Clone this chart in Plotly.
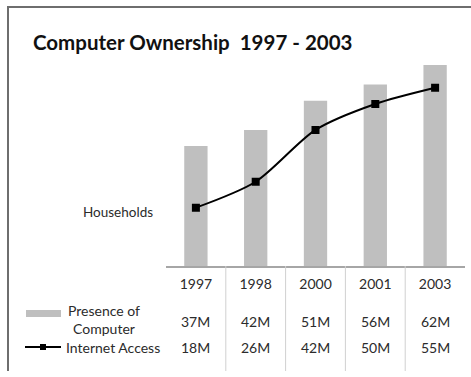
import plotly.graph_objects as go

years = ["1997", "1998", "2000", "2001", "2003"]
computer = [37, 42, 51, 56, 62]
internet = [18, 26, 42, 50, 55]
computer_labels = ["37M", "42M", "51M", "56M", "62M"]
internet_labels = ["18M", "26M", "42M", "50M", "55M"]

W, H = 471, 377
FONT = "Lato, Carlito, Calibri, sans-serif"
TXT = "#2b2b2b"

def px(x):
    return x / W

def py(y):
    return 1 - y / H

fig = go.Figure()

fig.add_trace(go.Bar(
    x=years, y=computer, name="Presence of Computer",
    marker=dict(color="#bfbfbf", line=dict(width=0)),
))
fig.add_trace(go.Scatter(
    x=years, y=internet, name="Internet Access",
    mode="lines+markers",
    line=dict(color="black", width=2, shape="spline", smoothing=0.8),
    marker=dict(symbol="square", size=8, color="black"),
))

shapes = []
# chart frame (only left and top visible)
shapes.append(dict(type="line", xref="paper", yref="paper",
                   x0=px(8), x1=px(8), y0=py(7), y1=py(371),
                   line=dict(color="#6e6e6e", width=2)))
shapes.append(dict(type="line", xref="paper", yref="paper",
                   x0=px(7), x1=1, y0=py(7), y1=py(7),
                   line=dict(color="#6e6e6e", width=2)))
# data table column separators (category index boundaries)
for i in range(len(years) - 1):
    shapes.append(dict(type="line", xref="x", yref="paper",
                       x0=i + 0.5, x1=i + 0.5, y0=py(266), y1=py(371),
                       line=dict(color="#d0d0d0", width=1)))
# legend keys
shapes.append(dict(type="rect", xref="paper", yref="paper",
                   x0=px(26), x1=px(61), y0=py(317), y1=py(310),
                   fillcolor="#bfbfbf", line=dict(width=0)))
shapes.append(dict(type="line", xref="paper", yref="paper",
                   x0=px(25), x1=px(61), y0=py(347), y1=py(347),
                   line=dict(color="black", width=2)))
shapes.append(dict(type="rect", xref="paper", yref="paper",
                   x0=px(40), x1=px(46), y0=py(350), y1=py(344),
                   fillcolor="black", line=dict(width=0)))

def note(x, y, text, size=14, xref="paper", xanchor="center", **kw):
    return dict(x=x, y=y, xref=xref, yref="paper", text=text, showarrow=False,
                xanchor=xanchor, yanchor="middle",
                font=dict(size=size, color=kw.pop("color", TXT), family=FONT), **kw)

annotations = []
for i in range(len(years)):
    annotations.append(note(i, py(321), computer_labels[i], xref="x"))
    annotations.append(note(i, py(347), internet_labels[i], xref="x"))
annotations.append(note(px(104), py(319), "Presence of<br>Computer", align="center"))
annotations.append(note(px(64), py(347), "Internet Access", xanchor="left"))
annotations.append(note(px(118), py(212), "Households", size=13.5))
annotations.append(note(px(31), py(42), "<b>Computer Ownership  1997 - 2003</b>",
                        size=20.5, xanchor="left", color="#111111"))

fig.update_layout(
    width=W, height=H,
    margin=dict(l=0, r=0, t=0, b=0),
    paper_bgcolor="white", plot_bgcolor="white",
    showlegend=False,
    bargap=0.61,
    shapes=shapes,
    annotations=annotations,
    xaxis=dict(
        domain=[px(166), px(465)],
        type="category",
        range=[-0.5, len(years) - 0.5],
        showgrid=False, zeroline=False,
        showline=True, linecolor="#a6a6a6", linewidth=1.5,
        ticks="outside", ticklen=4, tickcolor="rgba(0,0,0,0)",
        tickfont=dict(size=14, color=TXT, family=FONT),
    ),
    yaxis=dict(
        domain=[py(266), py(58.6)],
        range=[0, 64],
        visible=False,
    ),
)

fig.write_html("out.html", config={"displayModeBar": False},
               post_script="document.body.style.margin='0';")
